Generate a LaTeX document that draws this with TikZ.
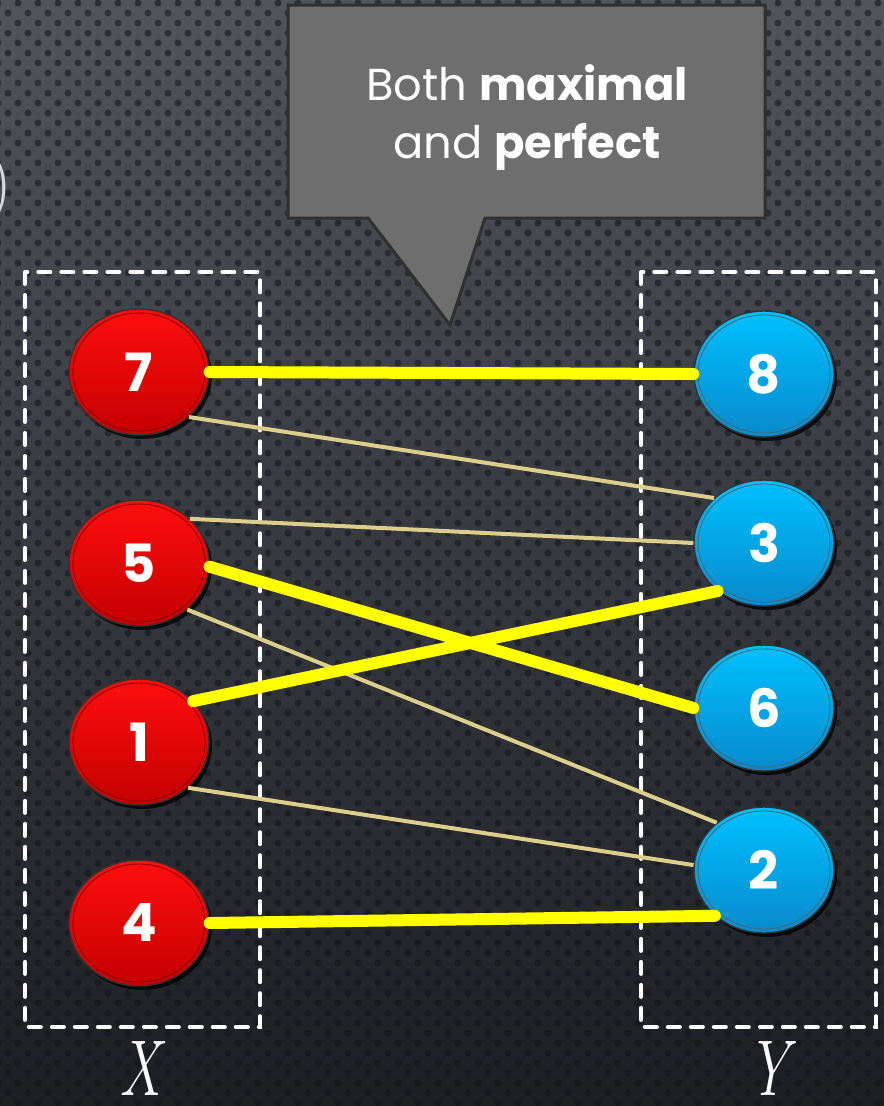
\documentclass[tikz,border=0pt]{standalone}
\usepackage{fontspec}
\setmainfont{Poppins}
\newfontfamily\setfont{Latin Modern Roman}
\usetikzlibrary{shapes.geometric,shadows}

\definecolor{bgtop}{RGB}{80,84,91}
\definecolor{bgbottom}{RGB}{28,30,34}
\definecolor{holes}{RGB}{18,20,26}
\definecolor{redtop}{RGB}{255,14,14}
\definecolor{redbottom}{RGB}{196,0,0}
\definecolor{bluetop}{RGB}{0,192,255}
\definecolor{bluebottom}{RGB}{8,138,204}
\definecolor{matchcol}{RGB}{255,255,0}
\definecolor{edgecol}{RGB}{221,206,140}
\definecolor{notefill}{RGB}{110,110,110}
\definecolor{noteline}{RGB}{48,48,48}

\tikzset{
  vertex/.style={ellipse, minimum width=2.8cm, minimum height=2.52cm, inner sep=0pt,
    text=white, font=\fontsize{30}{30}\selectfont\bfseries,
    drop shadow={shadow xshift=0.06cm, shadow yshift=-0.08cm, opacity=0.75, fill=black}},
  xvertex/.style={vertex, top color=redtop, bottom color=redbottom, draw=black!80, line width=0.8pt,
    path picture={\draw[red!55!black, line width=0.5pt] (path picture bounding box.center) ellipse [x radius=1.32cm, y radius=1.18cm];}},
  yvertex/.style={vertex, top color=bluetop, bottom color=bluebottom, draw=black!80, line width=0.8pt,
    path picture={\draw[cyan!40!black, line width=0.5pt] (path picture bounding box.center) ellipse [x radius=1.32cm, y radius=1.18cm];}},
  plain/.style={draw=edgecol, line width=0.08cm},
  match/.style={draw=matchcol, line width=0.24cm, line cap=round},
  side/.style={draw=white, line width=0.08cm, dash pattern=on 0.24cm off 0.22cm, line cap=round},
  setname/.style={text=white, font=\fontsize{45}{45}\setfont\itshape, inner sep=0pt},
}

\begin{document}
\begin{tikzpicture}[x=0.02cm, y=-0.02cm]

\useasboundingbox (0,0) rectangle (884,1106);
\clip (0,0) rectangle (884,1106);

% perforated metal backdrop
\shade[top color=bgtop, bottom color=bgbottom] (0,0) rectangle (884,1106);
\foreach \r in {0,...,111} {
  \fill[holes, opacity=0.55] \foreach \c in {0,...,45} { ({\c*20+mod(\r,2)*10-2}, {\r*10+3}) circle (0.07cm) };
}

\node[text=white!85!black, anchor=east, inner sep=0pt, font=\fontsize{42}{42}\setfont] (paren) at (13,188) {)};

% speech bubble
\filldraw[fill=notefill, draw=noteline, line width=0.06cm, line join=miter]
  (288,5) -- (765,5) -- (765,218) -- (485,218) -- (450,325) -- (368,218) -- (288,218) -- cycle;
\node[text=white, align=center, font=\fontsize{25.5}{33}\selectfont] (note) at (527,118)
  {Both \textbf{maximal}\\and \textbf{perfect}};

\draw[side] (25,272) rectangle (260,1027);
\draw[side] (641,272) rectangle (876,1027);

\node[xvertex] (x7) at (139,372) {7};
\node[xvertex] (x5) at (139,563) {5};
\node[xvertex] (x1) at (139,742) {1};
\node[xvertex] (x4) at (139,923) {4};

\node[yvertex] (y8) at (764,374) {8};
\node[yvertex] (y3) at (764,543) {3};
\node[yvertex] (y6) at (764,708) {6};
\node[yvertex] (y2) at (764,870) {2};

\draw[plain] (x7.-42) -- (y3.138);
\draw[plain] (x5.41) -- (y3.west);
\draw[plain] (x5.-44) -- (y2.135);
\draw[plain] (x1.-43) -- (y2.176);

\draw[match] (x7.east) -- (y8.west);
\draw[match] (x5.-3) -- (y6.west);
\draw[match] (x1.37) -- (y3.-134);
\draw[match] (x4.east) -- (y2.-137);

\node[setname, xscale=0.72, transform shape] (setx) at (140,1068) {X};
\node[setname, xscale=0.72, transform shape] (sety) at (768,1068) {Y};

\end{tikzpicture}
\end{document}
